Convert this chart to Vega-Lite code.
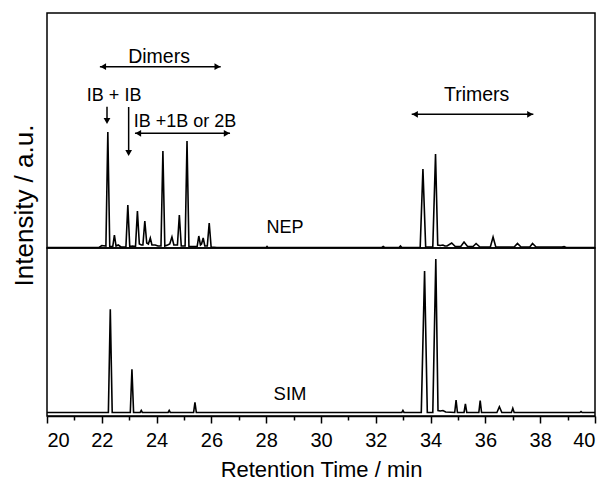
{
  "$schema": "https://vega.github.io/schema/vega-lite/v6.json",
  "padding": {"left": 10, "top": 12, "right": 8, "bottom": 1},
  "background": "white",
  "config": {
    "view": {"stroke": "black", "strokeWidth": 1.5},
    "font": "Liberation Sans",
    "text": {"font": "Liberation Sans", "color": "black"}
  },
  "spacing": 0,
  "bounds": "flush",
  "datasets": {
    "nep": [
      {"t": 20, "v": 0.5}, {"t": 21.9, "v": 0.5}, {"t": 22.0, "v": 2.5}, {"t": 22.15, "v": 2},
      {"t": 22.22, "v": 116}, {"t": 22.29, "v": 1.5}, {"t": 22.4, "v": 1.5}, {"t": 22.46, "v": 13},
      {"t": 22.52, "v": 2}, {"t": 22.6, "v": 3}, {"t": 22.7, "v": 1}, {"t": 22.88, "v": 1},
      {"t": 22.95, "v": 43}, {"t": 23.02, "v": 1.5}, {"t": 23.12, "v": 2}, {"t": 23.23, "v": 1.5},
      {"t": 23.3, "v": 37}, {"t": 23.37, "v": 4}, {"t": 23.45, "v": 3}, {"t": 23.5, "v": 3},
      {"t": 23.57, "v": 27}, {"t": 23.64, "v": 5}, {"t": 23.7, "v": 4}, {"t": 23.77, "v": 10},
      {"t": 23.83, "v": 3}, {"t": 23.95, "v": 3}, {"t": 24.05, "v": 2}, {"t": 24.16, "v": 2},
      {"t": 24.23, "v": 97}, {"t": 24.3, "v": 2}, {"t": 24.4, "v": 3}, {"t": 24.48, "v": 4},
      {"t": 24.56, "v": 11}, {"t": 24.63, "v": 3}, {"t": 24.76, "v": 3}, {"t": 24.83, "v": 33},
      {"t": 24.9, "v": 2}, {"t": 25.04, "v": 2}, {"t": 25.11, "v": 107}, {"t": 25.18, "v": 1.5},
      {"t": 25.48, "v": 1.5}, {"t": 25.54, "v": 12}, {"t": 25.6, "v": 3}, {"t": 25.64, "v": 4},
      {"t": 25.7, "v": 10}, {"t": 25.76, "v": 2}, {"t": 25.85, "v": 2}, {"t": 25.92, "v": 25},
      {"t": 25.99, "v": 1}, {"t": 26.2, "v": 0.5}, {"t": 28.0, "v": 0.5}, {"t": 28.03, "v": 1.5},
      {"t": 28.06, "v": 0.5}, {"t": 32.22, "v": 0.5}, {"t": 32.27, "v": 1.5}, {"t": 32.32, "v": 0.5},
      {"t": 32.85, "v": 0.5}, {"t": 32.9, "v": 2}, {"t": 32.95, "v": 0.5}, {"t": 33.62, "v": 0.5},
      {"t": 33.72, "v": 79}, {"t": 33.82, "v": 1}, {"t": 34.08, "v": 1}, {"t": 34.18, "v": 94},
      {"t": 34.26, "v": 3}, {"t": 34.35, "v": 2.5}, {"t": 34.45, "v": 3}, {"t": 34.52, "v": 2},
      {"t": 34.6, "v": 2}, {"t": 34.77, "v": 5}, {"t": 34.9, "v": 1.5}, {"t": 35.1, "v": 1.5},
      {"t": 35.22, "v": 6}, {"t": 35.35, "v": 1.5}, {"t": 35.55, "v": 1.5}, {"t": 35.66, "v": 4.5},
      {"t": 35.8, "v": 1}, {"t": 36.18, "v": 1}, {"t": 36.28, "v": 11}, {"t": 36.38, "v": 1},
      {"t": 37.05, "v": 1}, {"t": 37.17, "v": 4.5}, {"t": 37.3, "v": 1}, {"t": 37.62, "v": 1},
      {"t": 37.72, "v": 4.5}, {"t": 37.85, "v": 1}, {"t": 38.8, "v": 1}, {"t": 38.87, "v": 1.5},
      {"t": 38.95, "v": 0.5}, {"t": 40, "v": 0.5}
    ],
    "sim": [
      {"t": 20, "v": 3.5}, {"t": 22.24, "v": 3.5}, {"t": 22.31, "v": 106.7}, {"t": 22.38, "v": 3.5},
      {"t": 23.04, "v": 3.5}, {"t": 23.1, "v": 46.7}, {"t": 23.16, "v": 3.5}, {"t": 23.4, "v": 3.5},
      {"t": 23.44, "v": 5.5}, {"t": 23.48, "v": 3.5}, {"t": 24.42, "v": 3.5}, {"t": 24.46, "v": 5.5},
      {"t": 24.5, "v": 3.5}, {"t": 25.35, "v": 3.5}, {"t": 25.4, "v": 13.7}, {"t": 25.45, "v": 3.5},
      {"t": 32.95, "v": 3.5}, {"t": 32.99, "v": 5.5}, {"t": 33.03, "v": 3.5}, {"t": 33.66, "v": 3.5},
      {"t": 33.78, "v": 145}, {"t": 33.88, "v": 3.5}, {"t": 34.08, "v": 3.5}, {"t": 34.19, "v": 157},
      {"t": 34.27, "v": 5.5}, {"t": 34.35, "v": 5}, {"t": 34.45, "v": 5.5}, {"t": 34.55, "v": 4},
      {"t": 34.88, "v": 3.5}, {"t": 34.93, "v": 16}, {"t": 34.98, "v": 3.5}, {"t": 35.22, "v": 3.5},
      {"t": 35.27, "v": 12}, {"t": 35.32, "v": 3.5}, {"t": 35.76, "v": 3.5}, {"t": 35.81, "v": 15.3},
      {"t": 35.86, "v": 3.5}, {"t": 36.42, "v": 3.5}, {"t": 36.51, "v": 9.3}, {"t": 36.6, "v": 3.5},
      {"t": 36.95, "v": 3.5}, {"t": 37.0, "v": 7.7}, {"t": 37.05, "v": 3.5}, {"t": 39.45, "v": 3.5},
      {"t": 39.49, "v": 4.5}, {"t": 39.53, "v": 3.5}, {"t": 40, "v": 3.5}
    ],
    "hArrows": [
      {"name": "Dimers", "t": 21.93, "t2": 26.34, "v": 181.3},
      {"name": "IB +1B or 2B", "t": 23.21, "t2": 26.68, "v": 114.7},
      {"name": "Trimers", "t": 33.31, "t2": 37.75, "v": 133.7}
    ],
    "vArrows": [
      {"name": "IB + IB", "t": 22.19, "v": 141.3, "v2": 126},
      {"name": "IB +1B or 2B", "t": 22.98, "v": 141, "v2": 94}
    ],
    "heads": [
      {"t": 22.05, "v": 181.3, "dir": "triangle-left"},
      {"t": 26.22, "v": 181.3, "dir": "triangle-right"},
      {"t": 23.33, "v": 114.7, "dir": "triangle-left"},
      {"t": 26.56, "v": 114.7, "dir": "triangle-right"},
      {"t": 33.43, "v": 133.7, "dir": "triangle-left"},
      {"t": 37.63, "v": 133.7, "dir": "triangle-right"},
      {"t": 22.19, "v": 127, "dir": "triangle-down"},
      {"t": 22.98, "v": 95, "dir": "triangle-down"}
    ],
    "bigLabels": [
      {"t": 24.09, "v": 191.3, "label": "Dimers"},
      {"t": 35.68, "v": 153, "label": "Trimers"}
    ],
    "labels": [
      {"t": 22.45, "v": 152, "label": "IB + IB"},
      {"t": 25.04, "v": 126.3, "label": "IB +1B or 2B"},
      {"t": 28.69, "v": 20, "label": "NEP"}
    ],
    "simLabel": [
      {"t": 28.87, "v": 22, "label": "SIM"}
    ]
  },
  "vconcat": [
    {
      "width": 548,
      "height": 235,
      "encoding": {
        "x": {"field": "t", "type": "quantitative", "scale": {"domain": [20, 40], "nice": false}, "axis": null},
        "y": {"field": "v", "type": "quantitative", "scale": {"domain": [0, 235], "nice": false},
          "axis": {"title": "Intensity / a.u.", "labels": false, "ticks": false, "domain": false, "grid": false,
            "titleFontSize": 26, "titleFontWeight": "normal", "titleColor": "black", "titleFont": "Liberation Sans",
            "titlePadding": 10, "titleY": 192}}
      },
      "layer": [
        {"data": {"name": "nep"}, "mark": {"type": "line", "color": "black", "strokeWidth": 1.6, "clip": true}},
        {"data": {"name": "hArrows"}, "mark": {"type": "rule", "color": "black", "strokeWidth": 1.5},
          "encoding": {"x2": {"field": "t2"}}},
        {"data": {"name": "vArrows"}, "mark": {"type": "rule", "color": "black", "strokeWidth": 1.5},
          "encoding": {"y2": {"field": "v2"}}},
        {"data": {"name": "heads"}, "mark": {"type": "point", "filled": true, "color": "black", "opacity": 1, "size": 45},
          "encoding": {"shape": {"field": "dir", "type": "nominal", "scale": null, "legend": null}}},
        {"data": {"name": "bigLabels"}, "mark": {"type": "text", "fontSize": 19.5, "baseline": "middle", "align": "center"},
          "encoding": {"text": {"field": "label"}}},
        {"data": {"name": "labels"}, "mark": {"type": "text", "fontSize": 18, "baseline": "middle", "align": "center"},
          "encoding": {"text": {"field": "label"}}}
      ]
    },
    {
      "width": 548,
      "height": 168,
      "resolve": {"axis": {"x": "independent"}},
      "layer": [
        {
          "data": {"name": "sim"},
          "mark": {"type": "line", "color": "black", "strokeWidth": 1.6, "clip": true},
          "encoding": {
            "x": {"field": "t", "type": "quantitative", "scale": {"domain": [20, 40], "nice": false},
              "axis": {"orient": "bottom", "title": "Retention Time / min", "values": [20, 22, 24, 26, 28, 30, 32, 34, 36, 38, 40],
                "grid": false, "domainColor": "black", "domainWidth": 1.5, "tickColor": "black", "tickWidth": 1.5, "tickSize": 7,
                "labelFontSize": 20, "labelColor": "black", "labelPadding": 7, "labelFont": "Liberation Sans",
                "titleFontSize": 22, "titleFontWeight": "normal", "titleColor": "black", "titleFont": "Liberation Sans", "titlePadding": 9}},
            "y": {"field": "v", "type": "quantitative", "scale": {"domain": [0, 168], "nice": false}, "axis": null}
          }
        },
        {
          "data": {"name": "simLabel"},
          "mark": {"type": "text", "fontSize": 18.5, "baseline": "middle", "align": "center"},
          "encoding": {
            "x": {"field": "t", "type": "quantitative", "scale": {"domain": [20, 40], "nice": false},
              "axis": {"orient": "bottom", "title": null, "values": [21, 23, 25, 27, 29, 31, 33, 35, 37, 39],
                "grid": false, "domain": false, "labels": false, "tickColor": "black", "tickWidth": 1.5, "tickSize": 4}},
            "y": {"field": "v", "type": "quantitative", "scale": {"domain": [0, 168], "nice": false}, "axis": null},
            "text": {"field": "label"}
          }
        }
      ]
    }
  ]
}
